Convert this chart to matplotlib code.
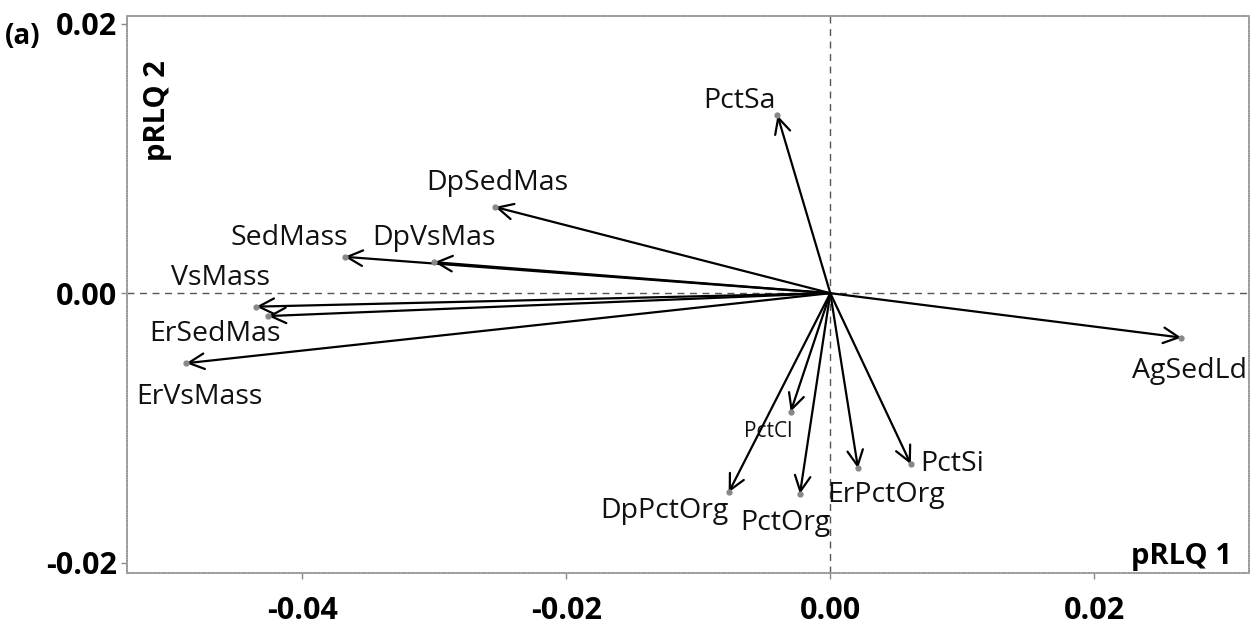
import matplotlib.pyplot as plt

# arrow tips (pRLQ 1, pRLQ 2)
names = ["PctSa", "DpSedMas", "SedMass", "DpVsMas", "VsMass", "ErSedMas",
         "ErVsMass", "AgSedLd", "PctCl", "DpPctOrg", "PctOrg", "ErPctOrg", "PctSi"]
x_vals = [-0.0040, -0.0254, -0.0368, -0.0300, -0.0435, -0.0426,
          -0.0488, 0.0266, -0.0030, -0.0077, -0.0023, 0.0021, 0.0061]
y_vals = [0.0132, 0.0064, 0.0027, 0.0023, -0.0010, -0.0017,
          -0.0052, -0.0033, -0.0088, -0.0148, -0.0149, -0.0130, -0.0127]
# label positions
lab_x = [-0.0069, -0.0252, -0.0410, -0.0300, -0.0462, -0.0466,
         -0.0478, 0.0272, -0.0047, -0.0126, -0.0034, 0.0042, 0.0068]
lab_y = [0.0143, 0.0082, 0.0041, 0.0041, 0.0011, -0.0030,
         -0.0077, -0.0058, -0.0103, -0.0162, -0.0171, -0.0150, -0.0127]
lab_ha = ["center", "center", "center", "center", "center", "center",
          "center", "center", "center", "center", "center", "center", "left"]

fig = plt.figure(figsize=(12.55, 6.3), dpi=100)
ax = fig.add_axes([0.101, 0.09, 0.894, 0.885])
ax.set_xlim(-0.0533, 0.0317)
ax.set_ylim(-0.0208, 0.0206)

ax.axhline(0, color="#555555", lw=1.0, ls=(0, (5, 4)), zorder=1)
ax.axvline(0, color="#555555", lw=1.0, ls=(0, (5, 4)), zorder=1)

for i, n in enumerate(names):
    ax.annotate("", xy=(x_vals[i], y_vals[i]), xytext=(0, 0),
                arrowprops=dict(arrowstyle="->", color="black", lw=1.6,
                                mutation_scale=28, shrinkA=0, shrinkB=0))
    ax.plot(x_vals[i], y_vals[i], "o", ms=3.5, color="#888888", zorder=3)
    fs = 15 if n == "PctCl" else 20.5
    ax.text(lab_x[i], lab_y[i], n, fontsize=fs, family="Open Sans",
            ha=lab_ha[i], va="center", color="#111111")

ax.set_xticks([-0.04, -0.02, 0.00, 0.02])
ax.set_xticklabels(["-0.04", "-0.02", "0.00", "0.02"])
ax.set_yticks([-0.02, 0.00, 0.02])
ax.set_yticklabels(["-0.02", "0.00", "0.02"])
ax.tick_params(labelsize=22, colors="#888888", labelcolor="black", length=4, width=1)
for lab in ax.get_xticklabels() + ax.get_yticklabels():
    lab.set_fontweight("bold")
    lab.set_family("Open Sans")
ax.tick_params(axis="x", pad=12)
ax.tick_params(axis="y", pad=3)
for s in ax.spines.values():
    s.set_color("#999999")
    s.set_linewidth(1.2)
    s.set_linestyle((0, (1, 0.5)))

ax.text(0.027, 0.92, "pRLQ 2", transform=ax.transAxes, rotation=90, fontsize=21,
        fontweight="bold", family="Open Sans", ha="center", va="top")
ax.text(0.985, 0.005, "pRLQ 1", transform=ax.transAxes, fontsize=21,
        fontweight="bold", family="Open Sans", ha="right", va="bottom")
fig.text(0.004, 0.93, "(a)", fontsize=20, fontweight="bold", family="Open Sans")

fig.savefig("out.png", dpi=100)
